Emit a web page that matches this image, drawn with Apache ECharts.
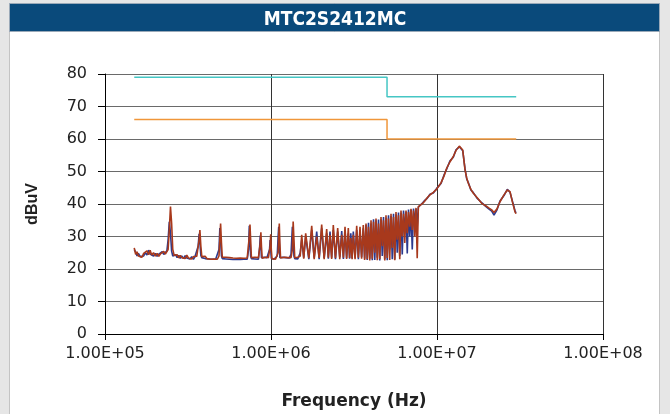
<!DOCTYPE html>
<html><head><meta charset="utf-8">
<script src="https://cdn.jsdelivr.net/npm/echarts@6/dist/echarts.min.js"></script>
<style>html,body{margin:0;padding:0;background:#e6e6e6;}#c{width:670px;height:414px;}</style>
</head><body><div id="c"></div>
<script>
// Frequencies of the measured scan, in MHz
const freqMHz = [
0.150,0.153,0.156,0.159,0.163,0.167,0.171,0.175,0.179,0.183,
0.187,0.191,0.196,0.201,0.206,0.211,0.216,0.221,0.226,0.231,
0.236,0.240,0.244,0.248,0.252,0.256,0.261,0.266,0.272,0.278,
0.284,0.290,0.297,0.304,0.311,0.318,0.325,0.333,0.341,0.349,
0.357,0.364,0.369,0.373,0.378,0.383,0.392,0.401,0.411,0.421,
0.431,0.442,0.453,0.464,0.475,0.486,0.492,0.497,0.503,0.509,
0.522,0.535,0.548,0.562,0.576,0.590,0.605,0.620,0.636,0.652,
0.668,0.685,0.702,0.719,0.733,0.740,0.747,0.754,0.762,0.781,
0.800,0.820,0.840,0.855,0.862,0.869,0.876,0.885,0.905,0.925,
0.945,0.965,0.980,0.988,0.996,1.004,1.014,1.040,1.065,1.090,
1.104,1.113,1.122,1.131,1.142,1.170,1.200,1.230,1.260,1.290,
1.320,1.345,1.360,1.375,1.390,1.420,1.450,1.480,1.500,1.531,
1.575,1.618,1.690,1.759,1.820,1.885,1.950,2.020,2.090,2.165,
2.215,2.267,2.320,2.373,2.445,2.522,2.595,2.667,2.730,2.792,
2.855,2.922,2.975,3.025,3.080,3.132,3.210,3.283,3.360,3.437,
3.515,3.597,3.665,3.736,3.800,3.867,3.935,4.004,4.074,4.145,
4.218,4.291,4.366,4.443,4.520,4.599,4.680,4.761,4.845,4.929,
5.015,5.103,5.190,5.284,5.376,5.470,5.565,5.662,5.762,5.863,
5.965,6.069,6.176,6.284,6.394,6.506,6.620,6.735,6.853,6.973,
7.095,7.219,7.345,7.473,7.600,7.720,7.900,8.200,8.470,8.750,
9.070,9.500,9.960,10.57,11.00,11.44,11.98,12.54,13.02,13.63,
13.96,14.29,14.75,15.10,15.44,16.00,16.55,17.42,18.59,19.74,
20.50,21.36,22.05,22.99,23.96,25.32,26.52,27.53,28.50,29.51,29.92
];
// Red trace (dBuV)
const redTrace = [
26.5,24.5,25.3,24,24.6,23.6,24.8,24.2,25.6,24.4,
25.8,24.3,25,24,24.8,23.9,24.7,24.1,25.4,24.6,
25,26,32,39.2,34,26,24.2,23.6,24.4,23.4,
24.2,23.5,24,23.2,24.3,23.4,23.9,23.1,23.8,23.2,
23.9,24.5,29,32,27,23.8,23.4,23.9,23.2,23.7,
23,23.6,23.1,23.5,23,24,29,34,28,23.6,
23.2,23.6,23,23.5,23.1,23.4,22.9,23.3,23,23.4,
22.9,23.3,23,23.4,24,30,33.7,29,23.5,23.2,
23.6,23.1,23.5,24,28,31.3,27,23.3,23.2,23.6,
23,23.5,24,27,30.7,26,23.2,23.5,23,23.4,
25,30,34,28,23.4,23.2,23.6,23,23.5,23.1,
23.5,26,34.6,29,23.5,23.2,23.6,23.2,24,30.5,
23.2,31,23.3,33.3,23,30,23.4,33.7,23,32.3,
23.5,30.5,23.1,33.5,23.4,32.6,23,30.5,23.5,33,
23.1,32.6,23.4,29.5,23,30.5,23,33.3,23.5,33,
23.2,33.5,22.8,34,23,33,22.6,35,23.2,34.5,
25,35.5,22.7,34,23.1,36,27,35,22.6,36.5,
23.4,35.5,22.8,37,26.5,36,22.7,37.5,29,36.5,
23,38,30,37,28,38,31,37.5,33,38.5,
32,38,30,38.8,23.3,39.2,39.7,40.2,41,42,
42.8,43.6,44.6,46.5,48.5,51,53,54.6,56.5,57.8,
57.5,56.6,50.5,48,46.4,44.5,43.3,42,40.2,39.4,
38.8,38.2,37.4,38.5,40.7,42.8,44.3,43.8,40.5,37.6,37
];
// Blue trace (dBuV)
const blueTrace = [
26,25.2,24,24.8,23.8,24.4,24,25,24.3,25.8,
24.6,25.2,24,24.8,23.9,24.6,24.2,25.3,24.5,25,
25.6,29,34.5,31,25.5,24,23.6,24.4,23.5,24.2,
23.3,24,23.2,24.1,23.4,23.9,23.1,23.8,23,23.9,
23.3,27,30.8,28,24.2,23.5,23.9,23.2,23.8,23.1,
23.6,23,23.5,23,23.4,26,32.6,29,24,23.2,
23.6,23.1,23.5,23,23.4,22.9,23.3,23,23.4,22.9,
23.3,23,23.4,23,26,33.3,30,24,23.2,23.6,
23.1,23.5,23,27,30.3,27,23.5,23.2,23.6,23,
23.5,23.2,26,28.9,26,23.3,23.5,23,23.5,24,
30,33,29,23.5,23.2,23.6,23,23.5,23.1,23.4,
24.5,33,30,24,23.2,23.6,23.1,23.4,25,29,
23.5,30,23,32,23.5,31.5,23,32.5,23.4,31,
23.2,31.5,23.5,32,23,31.5,23.6,31.7,23.1,32,
23.4,31,23.2,31,23.3,31.5,23.5,32,23,32,
23.6,32.5,23.2,33.5,22.8,34.2,23.2,34,22.7,35.3,
22.8,35,23.5,35.2,22.6,35.3,24,36,23,35.8,
22.7,36.5,26,36.3,23,37,22.9,36.8,25,37.4,
24,37.3,24.5,38,31,37.6,24.8,38.3,30,38.2,
26,38.6,34,38.5,33,39,39.5,40.4,41.2,41.8,
43,43.4,44.8,46.3,48.8,50.8,53.3,54.4,56.7,57.6,
57.5,56.4,50.8,47.7,46.6,44.3,43.5,41.8,40.4,39.2,
38.5,37.8,36.6,38.2,40.9,42.6,44.5,43.6,40.8,37.9,37.3
];
// Limit lines: frequency (MHz) and level (dBuV)
const limitFreqMHz = [0.15, 5, 5, 30];
const limitQP = [79, 79, 73, 73];
const limitAV = [66, 66, 60, 60];
const yTicks = [0, 80, 10];
const xRangeHz = [1e5, 1e8];
const chartTitle = 'MTC2S2412MC';

const toPairs = (fs, vs) => fs.map((f, i) => [f * 1e6, vs[i]]);
const chart = echarts.init(document.getElementById('c'), null, {renderer: 'canvas'});
const tickFont = 'DejaVu Sans';
chart.setOption({
  animation: false,
  backgroundColor: '#e6e6e6',
  graphic: [
    {type: 'rect', z: -10, shape: {x: 9.5, y: 31.5, width: 650, height: 390}, style: {fill: '#ffffff', stroke: '#c4c4c4', lineWidth: 1}},
    {type: 'rect', z: -9, shape: {x: 9.5, y: 3.5, width: 650, height: 28}, style: {fill: '#0a4a7b', stroke: '#9aa9b8', lineWidth: 1}}
  ],
  title: {
    text: chartTitle, left: 'center', top: 6,
    textStyle: {color: '#ffffff', fontFamily: '"Liberation Sans Narrow", "DejaVu Sans Condensed", sans-serif', fontWeight: 'bold', fontSize: 19}
  },
  grid: {left: 105, right: 67, top: 74, bottom: 80, containLabel: false, outerBoundsMode: 'none'},
  xAxis: {
    type: 'log', logBase: 10, min: xRangeHz[0], max: xRangeHz[1],
    name: 'Frequency (Hz)', nameLocation: 'middle', nameGap: 59,
    nameTextStyle: {fontFamily: tickFont, fontWeight: 'bold', fontSize: 17, color: '#222'},
    axisLine: {show: true, lineStyle: {color: '#000', width: 1}},
    axisTick: {show: true, length: 6, lineStyle: {color: '#000'}},
    minorTick: {show: false},
    splitLine: {show: true, lineStyle: {color: '#333', width: 1}},
    axisLabel: {
      fontFamily: tickFont, fontSize: 16, color: '#222', margin: 12,
      formatter: v => { const e = Math.round(Math.log10(v)); return '1.00E+' + String(e).padStart(2, '0'); }
    }
  },
  yAxis: {
    type: 'value', min: yTicks[0], max: yTicks[1], interval: yTicks[2],
    name: 'dBuV', nameLocation: 'middle', nameGap: 64, nameRotate: 90,
    nameTextStyle: {fontFamily: 'Liberation Sans', fontWeight: 'bold', fontSize: 16, color: '#222'},
    axisLine: {show: true, lineStyle: {color: '#000', width: 1}},
    axisTick: {show: true, length: 7, lineStyle: {color: '#000'}},
    splitLine: {show: true, lineStyle: {color: '#6a6a6a', width: 1}},
    axisLabel: {fontFamily: tickFont, fontSize: 16, color: '#222', margin: 18}
  },
  series: [
    {type: 'line', data: toPairs(limitFreqMHz, limitQP), showSymbol: false, lineStyle: {color: '#45c6c4', width: 1.5}, z: 3},
    {type: 'line', data: toPairs(limitFreqMHz, limitAV), showSymbol: false, lineStyle: {color: '#f0963a', width: 1.5}, z: 3},
    {type: 'line', data: toPairs(freqMHz, blueTrace), showSymbol: false, lineStyle: {color: '#2c3a8e', width: 1.6}, z: 4},
    {type: 'line', data: toPairs(freqMHz, redTrace), showSymbol: false, lineStyle: {color: '#a8391c', width: 1.6}, z: 5}
  ]
});
</script></body></html>
